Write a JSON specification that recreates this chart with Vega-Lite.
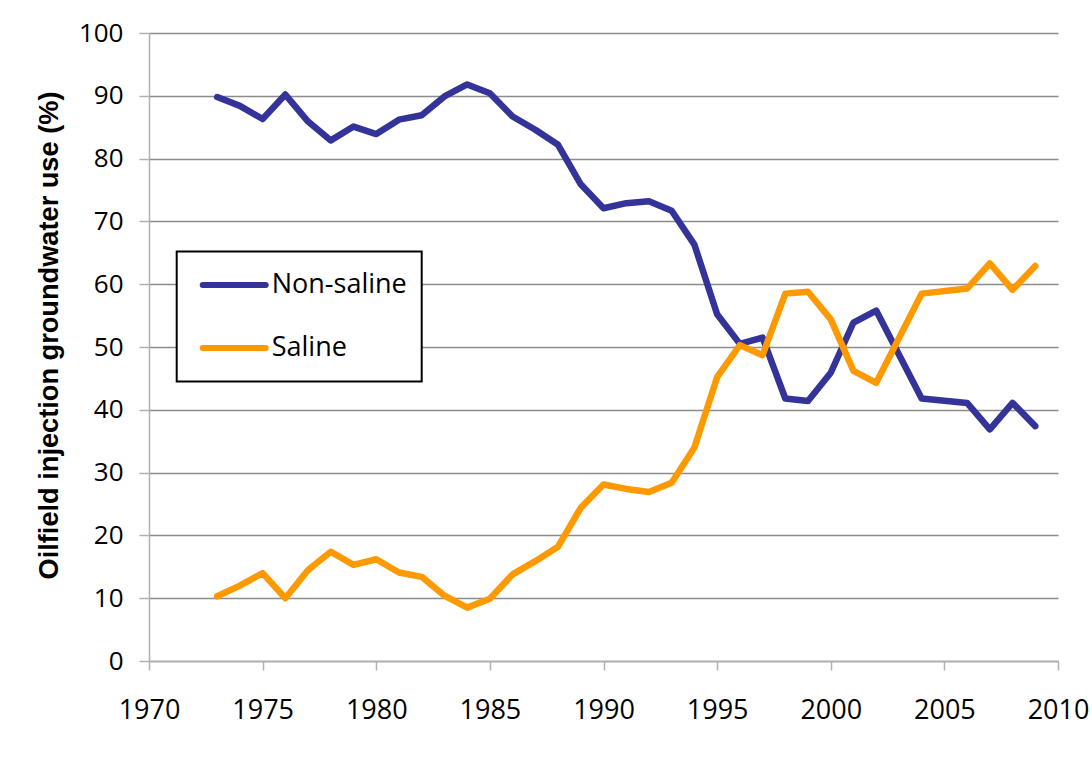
{
  "$schema": "https://vega.github.io/schema/vega-lite/v6.json",
  "width": 909,
  "height": 628,
  "autosize": {"type": "none"},
  "padding": {"left": 149, "top": 33, "right": 34, "bottom": 106},
  "background": "white",
  "config": {
    "view": {"stroke": null},
    "font": "Open Sans",
    "legend": {"strokeWidth": 2}
  },
  "data": {
    "values": [
      {"year": 1973, "type": "Non-saline", "value": 89.8},
      {"year": 1974, "type": "Non-saline", "value": 88.4},
      {"year": 1975, "type": "Non-saline", "value": 86.3},
      {"year": 1976, "type": "Non-saline", "value": 90.2},
      {"year": 1977, "type": "Non-saline", "value": 85.9},
      {"year": 1978, "type": "Non-saline", "value": 82.9},
      {"year": 1979, "type": "Non-saline", "value": 85.1},
      {"year": 1980, "type": "Non-saline", "value": 83.9},
      {"year": 1981, "type": "Non-saline", "value": 86.2},
      {"year": 1982, "type": "Non-saline", "value": 86.9},
      {"year": 1983, "type": "Non-saline", "value": 89.9},
      {"year": 1984, "type": "Non-saline", "value": 91.8},
      {"year": 1985, "type": "Non-saline", "value": 90.4},
      {"year": 1986, "type": "Non-saline", "value": 86.7},
      {"year": 1987, "type": "Non-saline", "value": 84.6},
      {"year": 1988, "type": "Non-saline", "value": 82.2},
      {"year": 1989, "type": "Non-saline", "value": 75.9},
      {"year": 1990, "type": "Non-saline", "value": 72.1},
      {"year": 1991, "type": "Non-saline", "value": 72.9},
      {"year": 1992, "type": "Non-saline", "value": 73.2},
      {"year": 1993, "type": "Non-saline", "value": 71.7},
      {"year": 1994, "type": "Non-saline", "value": 66.3},
      {"year": 1995, "type": "Non-saline", "value": 55.2},
      {"year": 1996, "type": "Non-saline", "value": 50.5},
      {"year": 1997, "type": "Non-saline", "value": 51.5},
      {"year": 1998, "type": "Non-saline", "value": 41.8},
      {"year": 1999, "type": "Non-saline", "value": 41.4},
      {"year": 2000, "type": "Non-saline", "value": 45.9},
      {"year": 2001, "type": "Non-saline", "value": 53.9},
      {"year": 2002, "type": "Non-saline", "value": 55.8},
      {"year": 2004, "type": "Non-saline", "value": 41.8},
      {"year": 2006, "type": "Non-saline", "value": 41.1},
      {"year": 2007, "type": "Non-saline", "value": 36.9},
      {"year": 2008, "type": "Non-saline", "value": 41.1},
      {"year": 2009, "type": "Non-saline", "value": 37.4},
      {"year": 1973, "type": "Saline", "value": 10.3},
      {"year": 1974, "type": "Saline", "value": 12.0},
      {"year": 1975, "type": "Saline", "value": 14.0},
      {"year": 1976, "type": "Saline", "value": 10.0},
      {"year": 1977, "type": "Saline", "value": 14.5},
      {"year": 1978, "type": "Saline", "value": 17.4},
      {"year": 1979, "type": "Saline", "value": 15.3},
      {"year": 1980, "type": "Saline", "value": 16.2},
      {"year": 1981, "type": "Saline", "value": 14.1},
      {"year": 1982, "type": "Saline", "value": 13.4},
      {"year": 1983, "type": "Saline", "value": 10.4},
      {"year": 1984, "type": "Saline", "value": 8.5},
      {"year": 1985, "type": "Saline", "value": 9.9},
      {"year": 1986, "type": "Saline", "value": 13.8},
      {"year": 1987, "type": "Saline", "value": 15.9},
      {"year": 1988, "type": "Saline", "value": 18.2},
      {"year": 1989, "type": "Saline", "value": 24.4},
      {"year": 1990, "type": "Saline", "value": 28.1},
      {"year": 1991, "type": "Saline", "value": 27.4},
      {"year": 1992, "type": "Saline", "value": 26.9},
      {"year": 1993, "type": "Saline", "value": 28.4},
      {"year": 1994, "type": "Saline", "value": 34.0},
      {"year": 1995, "type": "Saline", "value": 45.2},
      {"year": 1996, "type": "Saline", "value": 50.3},
      {"year": 1997, "type": "Saline", "value": 48.7},
      {"year": 1998, "type": "Saline", "value": 58.5},
      {"year": 1999, "type": "Saline", "value": 58.8},
      {"year": 2000, "type": "Saline", "value": 54.4},
      {"year": 2001, "type": "Saline", "value": 46.2},
      {"year": 2002, "type": "Saline", "value": 44.3},
      {"year": 2004, "type": "Saline", "value": 58.5},
      {"year": 2006, "type": "Saline", "value": 59.3},
      {"year": 2007, "type": "Saline", "value": 63.3},
      {"year": 2008, "type": "Saline", "value": 59.1},
      {"year": 2009, "type": "Saline", "value": 62.9}
    ]
  },
  "mark": {"type": "line", "strokeWidth": 6.5, "strokeCap": "round", "strokeJoin": "round"},
  "encoding": {
    "x": {
      "field": "year",
      "type": "quantitative",
      "scale": {"domain": [1970, 2010], "nice": false, "zero": false},
      "axis": {
        "title": null,
        "values": [1970, 1975, 1980, 1985, 1990, 1995, 2000, 2005, 2010],
        "format": "d",
        "grid": false,
        "domainColor": "#b0b0b0",
        "domainWidth": 1.5,
        "tickColor": "#b0b0b0",
        "tickWidth": 1.5,
        "tickSize": 9,
        "labelFont": "Open Sans",
        "labelFontSize": 27,
        "labelColor": "black",
        "labelPadding": 27,
        "labelFlush": false,
        "labelOverlap": false
      }
    },
    "y": {
      "field": "value",
      "type": "quantitative",
      "scale": {"domain": [0, 100], "nice": false},
      "axis": {
        "title": "Oilfield injection groundwater use (%)",
        "titleFont": "Liberation Sans",
        "titleFontSize": 27.2,
        "titleFontWeight": "bold",
        "titleColor": "black",
        "titlePadding": 15,
        "titleY": 302,
        "values": [0, 10, 20, 30, 40, 50, 60, 70, 80, 90, 100],
        "grid": true,
        "gridColor": "#8c8c8c",
        "gridWidth": 1.5,
        "domainColor": "#b0b0b0",
        "domainWidth": 1.5,
        "tickColor": "#b0b0b0",
        "tickWidth": 1.5,
        "tickSize": 10,
        "labelFont": "Open Sans",
        "labelFontSize": 26,
        "labelColor": "black",
        "labelPadding": 16,
        "labelOverlap": false
      }
    },
    "color": {
      "field": "type",
      "type": "nominal",
      "scale": {"domain": ["Non-saline", "Saline"], "range": ["#333399", "#FF9900"]},
      "legend": {
        "title": null,
        "orient": "none",
        "legendX": 27.7,
        "legendY": 218.4,
        "strokeColor": "black",
        "fillColor": "white",
        "padding": 14,
        "symbolType": "stroke",
        "symbolSize": 3969,
        "symbolStrokeWidth": 6,
        "clipHeight": 39,
        "rowPadding": 24,
        "symbolOffset": 9,
        "labelOffset": 3,
        "labelFont": "Open Sans",
        "labelFontSize": 27,
        "labelColor": "black",
        "encode": {"symbols": {"update": {"strokeCap": {"value": "round"}}}}
      }
    }
  }
}
